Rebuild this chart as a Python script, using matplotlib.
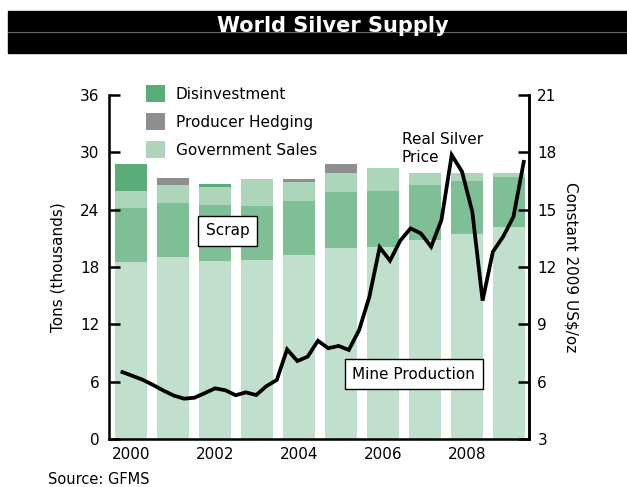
import matplotlib.pyplot as plt
import matplotlib.patches as patches
import numpy as np

# supply components, thousand tons
years = [2000, 2001, 2002, 2003, 2004, 2005, 2006, 2007, 2008, 2009]
mine = [18.5, 19.0, 18.6, 18.7, 19.25, 19.95, 20.05, 20.8, 21.45, 22.2]
scrap = [5.7, 5.7, 5.9, 5.7, 5.7, 5.85, 5.95, 5.75, 5.55, 5.2]
gov_sales = [1.8, 1.9, 1.85, 2.8, 1.95, 2.05, 2.4, 1.25, 0.8, 0.4]
hedging = [0.0, 0.7, 0.0, 0.0, 0.3, 0.9, 0.0, 0.0, 0.0, 0.0]
disinvest = [2.8, 0.0, 0.35, 0.0, 0.0, 0.0, 0.0, 0.0, 0.0, 0.0]

# quarterly real silver price, constant 2009 US$/oz
price = [6.5, 6.3, 6.09, 5.82, 5.53, 5.27, 5.11, 5.16, 5.40, 5.65,
         5.55, 5.29, 5.44, 5.30, 5.77, 6.09, 7.69, 7.08, 7.31, 8.14,
         7.75, 7.87, 7.66, 8.70, 10.45, 13.03, 12.33, 13.38, 14.02, 13.76,
         13.06, 14.46, 17.86, 16.99, 14.89, 10.24, 12.8, 13.59, 14.63, 17.5]
price_t = 1999.8 + 0.245 * np.arange(len(price))

c_mine = "#c0dfcc"
c_scrap = "#7fbf96"
c_gov = "#acd5ba"
c_hedge = "#8e8e8e"
c_dis = "#5aad78"

plt.rcParams["font.family"] = "DejaVu Sans"
fig = plt.figure(figsize=(6.27, 4.87), dpi=100)

# title band
fig.patches.append(patches.Rectangle((8 / 627, 1 - 52.7 / 487), 1, 41.7 / 487,
                                     transform=fig.transFigure, color="black", zorder=0))
fig.lines.append(plt.Line2D([8 / 627, 1], [1 - 31.7 / 487] * 2, transform=fig.transFigure,
                            color="#6a6a6a", lw=0.8, zorder=1))
fig.text(0.531, 1 - 31.7 / 487, "World Silver Supply", color="white", fontsize=15,
         fontweight="bold", ha="center", va="baseline", zorder=2)

ax = fig.add_axes([109 / 627, 48 / 487, 420 / 627, 344 / 487])
w = 0.76
bottom = np.zeros(len(years))
bars = {}
for name, vals, col in [("Mine Production", mine, c_mine), ("Scrap", scrap, c_scrap),
                        ("Government Sales", gov_sales, c_gov),
                        ("Producer Hedging", hedging, c_hedge),
                        ("Disinvestment", disinvest, c_dis)]:
    bars[name] = ax.bar(years, vals, w, bottom=bottom, color=col, linewidth=0)
    bottom += np.array(vals)

ax.set_xlim(1999.48, 2009.48)
ax.set_ylim(0, 36)
ax.set_yticks(range(0, 37, 6))
ax.set_xticks([2000, 2002, 2004, 2006, 2008])
ax.tick_params(axis="x", length=0, labelsize=11, pad=6)
ax.tick_params(axis="y", direction="in", length=8, width=1.8, labelsize=11, pad=7)
ax.spines["top"].set_visible(False)
for s in ("left", "bottom", "right"):
    ax.spines[s].set_linewidth(1.8)
ax.set_ylabel("Tons (thousands)", fontsize=11, labelpad=10)

ax2 = ax.twinx()
ax2.plot(price_t, price, color="black", lw=2.7, solid_joinstyle="miter")
ax2.set_ylim(3, 21)
ax2.set_yticks(range(3, 22, 3))
ax2.tick_params(axis="y", direction="in", length=8, width=1.8, labelsize=11, pad=6)
ax2.spines["top"].set_visible(False)
ax2.spines["right"].set_linewidth(1.8)
ax2.set_ylabel("Constant 2009 US$/oz", fontsize=11, rotation=-90, labelpad=16)

box = dict(boxstyle="square,pad=0.5", facecolor="white", edgecolor="black", lw=1)
ax2.text(2002.31, 21.8, "Scrap", fontsize=11, ha="center", va="center",
         bbox=box, transform=ax.transData)
ax2.text(2006.74, 6.8, "Mine Production", fontsize=11, ha="center", va="center",
         bbox=box, transform=ax.transData)
ax2.text(2006.45, 32.1, "Real Silver\nPrice", fontsize=11, ha="left", va="top",
         linespacing=1.2, transform=ax.transData)

handles = [bars["Disinvestment"], bars["Producer Hedging"], bars["Government Sales"]]
fig.legend(handles, ["Disinvestment", "Producer Hedging", "Government Sales"],
           loc="upper left", bbox_to_anchor=(146 / 627, 1 - 85 / 487), frameon=False,
           fontsize=11, borderpad=0, handlelength=1.25, handleheight=1.35,
           handletextpad=0.7, labelspacing=0.72, borderaxespad=0)

fig.text(48 / 627, 1 - 480 / 487, "Source: GFMS", fontsize=10.5, ha="left", va="center")

fig.savefig("out.png", dpi=100)
